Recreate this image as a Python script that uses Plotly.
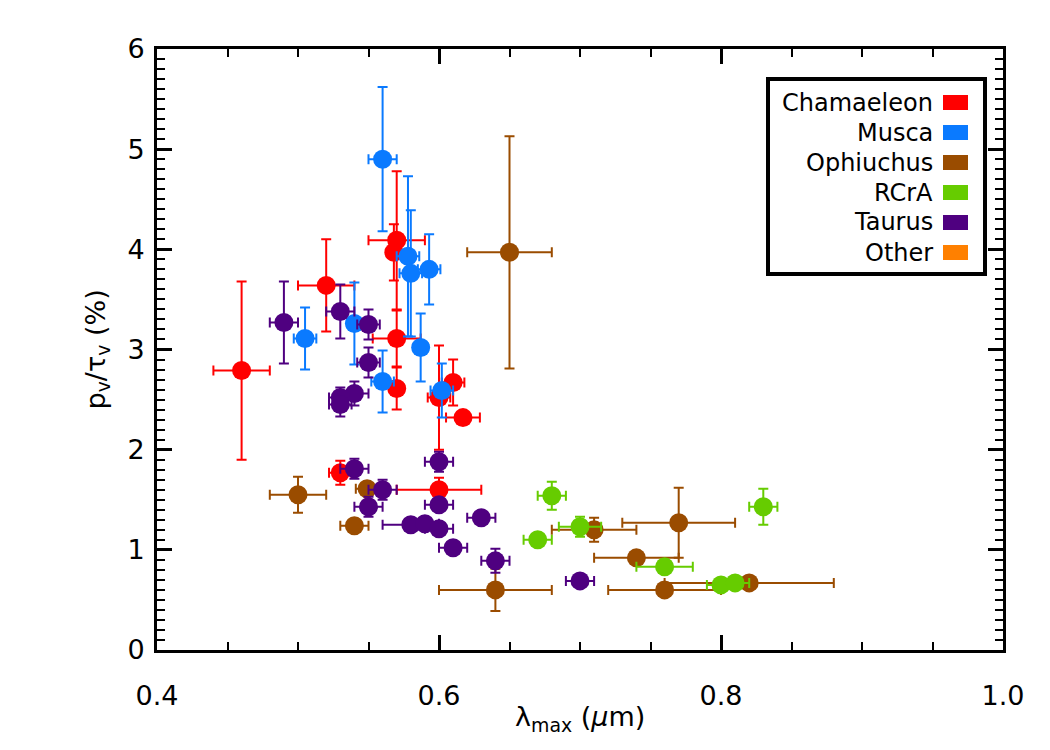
import plotly.graph_objects as go

# ---- data ----
cha_x    = [0.46, 0.52, 0.57, 0.568, 0.57, 0.57, 0.61, 0.60, 0.617, 0.60, 0.53]
cha_y    = [2.79, 3.64, 4.09, 3.97, 3.11, 2.61, 2.67, 2.52, 2.32, 1.60, 1.77]
cha_xerr = [0.02, 0.02, 0.02, 0.005, 0.017, 0.005, 0.008, 0.008, 0.012, 0.03, 0.008]
cha_yerr = [0.89, 0.46, 0.69, 0.28, 0.28, 0.21, 0.23, 0.52, 0.05, 0.12, 0.12]

mus_x    = [0.56, 0.578, 0.58, 0.593, 0.587, 0.505, 0.54, 0.56, 0.602]
mus_y    = [4.90, 3.93, 3.76, 3.80, 3.02, 3.11, 3.26, 2.68, 2.59]
mus_xerr = [0.01, 0.008, 0.008, 0.008, 0.005, 0.008, 0.005, 0.008, 0.008]
mus_yerr = [0.72, 0.80, 0.63, 0.35, 0.34, 0.31, 0.41, 0.31, 0.27]

oph_x    = [0.65, 0.50, 0.549, 0.54, 0.64, 0.71, 0.77, 0.74, 0.76, 0.82]
oph_y    = [3.97, 1.55, 1.61, 1.24, 0.60, 1.20, 1.27, 0.92, 0.60, 0.67]
oph_xerr = [0.03, 0.02, 0.008, 0.01, 0.04, 0.03, 0.04, 0.03, 0.04, 0.06]
oph_yerr = [1.16, 0.18, 0.05, 0.03, 0.21, 0.12, 0.35, 0.03, 0.03, 0.05]

rcra_x    = [0.68, 0.70, 0.67, 0.83, 0.76, 0.80, 0.81]
rcra_y    = [1.54, 1.23, 1.10, 1.43, 0.83, 0.65, 0.67]
rcra_xerr = [0.01, 0.015, 0.01, 0.01, 0.02, 0.01, 0.01]
rcra_yerr = [0.14, 0.10, 0.03, 0.18, 0.03, 0.03, 0.03]

tau_x    = [0.49, 0.53, 0.55, 0.55, 0.54, 0.53, 0.53, 0.60, 0.54, 0.56,
            0.55, 0.60, 0.63, 0.58, 0.59, 0.60, 0.61, 0.64, 0.70]
tau_y    = [3.27, 3.38, 3.25, 2.87, 2.56, 2.52, 2.45, 1.88, 1.81, 1.60,
            1.43, 1.45, 1.32, 1.25, 1.26, 1.21, 1.02, 0.89, 0.69]
tau_xerr = [0.01, 0.01, 0.008, 0.008, 0.01, 0.008, 0.008, 0.01, 0.01, 0.01,
            0.01, 0.01, 0.01, 0.02, 0.01, 0.01, 0.01, 0.01, 0.01]
tau_yerr = [0.41, 0.27, 0.15, 0.15, 0.12, 0.10, 0.12, 0.10, 0.10, 0.10,
            0.10, 0.06, 0.05, 0.06, 0.03, 0.05, 0.03, 0.12, 0.03]

regions = ["Chamaeleon", "Musca", "Ophiuchus", "RCrA", "Taurus", "Other"]
colors = ["#FF0000", "#0A7AFF", "#9A4C00", "#66CC00", "#4F0080", "#FF8000"]

x_ticks = [0.4, 0.6, 0.8, 1.0]
x_ticklabels = ["0.4", "0.6", "0.8", "1.0"]
y_ticks = [0, 1, 2, 3, 4, 5, 6]
y_ticklabels = ["0", "1", "2", "3", "4", "5", "6"]
x_minor = [round(0.4 + 0.05 * i, 3) for i in range(13)]
y_minor = [round(0.1 * i, 2) for i in range(61)]

x_title = "λ<sub>max</sub> (<i>μ</i>m)"
y_title = "p<sub>v</sub>/τ<sub>v</sub> (%)"

series = [
    (cha_x, cha_y, cha_xerr, cha_yerr),
    (mus_x, mus_y, mus_xerr, mus_yerr),
    (oph_x, oph_y, oph_xerr, oph_yerr),
    (rcra_x, rcra_y, rcra_xerr, rcra_yerr),
    (tau_x, tau_y, tau_xerr, tau_yerr),
]

FONT = "DejaVu Sans"
TICKC = "#000000"
CLEAR = "rgba(0,0,0,0)"

fig = go.Figure()
for name, col, (x, y, xe, ye) in zip(regions, colors, series):
    fig.add_trace(go.Scatter(
        x=x, y=y, mode="markers", name=name, showlegend=False,
        marker=dict(size=19, color=col, line=dict(width=0)),
        error_x=dict(type="data", array=xe, color=col, thickness=2, width=5),
        error_y=dict(type="data", array=ye, color=col, thickness=2, width=5),
    ))
# invisible traces anchoring the overlay axes (minor ticks / tick labels)
for xa, ya in (("x2", "y2"), ("x3", "y3")):
    fig.add_trace(go.Scatter(x=[0.5], y=[-1], xaxis=xa, yaxis=ya, mode="markers",
                             marker=dict(size=1, opacity=0),
                             showlegend=False, hoverinfo="skip"))

# ---- custom legend (text right, swatch at right) ----
px0, px1, py0, py1 = 157, 1003, 49, 650
def pxx(p): return (p - px0) / (px1 - px0)
def pyy(p): return (py1 - p) / (py1 - py0)

shapes = [dict(type="rect", xref="paper", yref="paper",
               x0=pxx(768), x1=pxx(985), y0=pyy(274), y1=pyy(79),
               line=dict(color="black", width=4), fillcolor="white", layer="above")]
annotations = []
for i, (name, col) in enumerate(zip(regions, colors)):
    cy = 102.5 + 30 * i
    shapes.append(dict(type="rect", xref="paper", yref="paper",
                       x0=pxx(943), x1=pxx(968), y0=pyy(cy + 7.5), y1=pyy(cy - 7.5),
                       line=dict(width=0), fillcolor=col, layer="above"))
    annotations.append(dict(xref="paper", yref="paper", x=pxx(935), y=pyy(cy),
                            text=name, showarrow=False, xanchor="right", yanchor="middle",
                            font=dict(family=FONT, size=24, color="black")))

# axis titles
annotations.append(dict(xref="paper", yref="paper", x=0.5, y=pyy(719),
                        text=x_title, showarrow=False, xanchor="center", yanchor="middle",
                        font=dict(family=FONT, size=27, color="black")))
annotations.append(dict(xref="paper", yref="paper", x=pxx(97), y=0.5,
                        text=y_title, showarrow=False, xanchor="center", yanchor="middle",
                        textangle=-90, font=dict(family=FONT, size=27, color="black")))

fig.update_layout(
    width=1050, height=750,
    margin=dict(l=157, r=47, t=49, b=100),
    plot_bgcolor="white", paper_bgcolor="white",
    shapes=shapes, annotations=annotations,
    xaxis=dict(range=[0.4, 1.0], tickvals=x_ticks, showticklabels=False,
               showline=True, linecolor="black", linewidth=3, mirror="allticks",
               ticks="inside", ticklen=15, tickwidth=3, tickcolor=TICKC),
    yaxis=dict(range=[0, 6], tickvals=y_ticks, showticklabels=False,
               showline=True, linecolor="black", linewidth=3, mirror="allticks",
               ticks="inside", ticklen=15, tickwidth=3, tickcolor=TICKC),
    xaxis2=dict(overlaying="x", anchor="y2", range=[0.4, 1.0], tickvals=x_minor,
                ticks="inside", ticklen=8, tickwidth=2, tickcolor=TICKC, mirror="allticks",
                showticklabels=False),
    yaxis2=dict(overlaying="y", anchor="x2", range=[0, 6], tickvals=y_minor,
                ticks="inside", ticklen=8, tickwidth=2, tickcolor=TICKC, mirror="allticks",
                showticklabels=False, side="left"),
    xaxis3=dict(overlaying="x", anchor="y3", range=[0.4, 1.0], side="bottom",
                tickvals=x_ticks, ticktext=x_ticklabels,
                ticks="outside", ticklen=22, tickwidth=1, tickcolor=CLEAR,
                tickfont=dict(family=FONT, size=27, color="black")),
    yaxis3=dict(overlaying="y", anchor="x3", range=[0, 6], side="left",
                tickvals=y_ticks, ticktext=y_ticklabels,
                ticks="outside", ticklen=6, tickwidth=1, tickcolor=CLEAR,
                tickfont=dict(family=FONT, size=27, color="black")),
)
fig.update_xaxes(showgrid=False, zeroline=False)
fig.update_yaxes(showgrid=False, zeroline=False)

fig.write_html("out.html")
